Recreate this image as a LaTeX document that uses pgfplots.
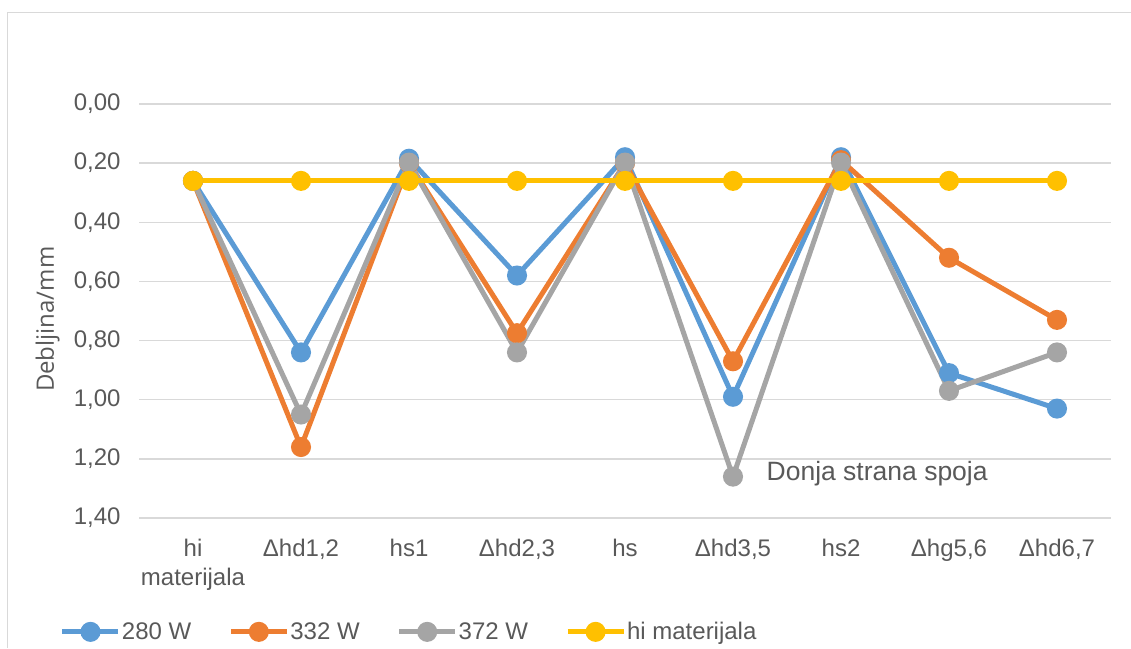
\documentclass[border=0pt]{standalone}
\usepackage{fontspec}
\setmainfont{Liberation Sans}
\newfontfamily\labelfont{Open Sans}
\usepackage{pgfplots}
\pgfplotsset{compat=1.18}
\definecolor{cblue}{HTML}{5B9BD5}
\definecolor{corange}{HTML}{ED7D31}
\definecolor{cgray}{HTML}{A5A5A5}
\definecolor{cyellow}{HTML}{FFC000}
\definecolor{ctext}{HTML}{595959}
\definecolor{cgrid}{HTML}{D9D9D9}
\begin{document}
\begin{tikzpicture}[x=1pt,y=1pt]
\useasboundingbox (0,0) rectangle (1131,648);
\draw[cgrid, line width=1.5pt] (7.5,0) -- (7.5,635.5) -- (1131,635.5);
\begin{axis}[
  at={(625pt,337pt)}, anchor=center,
  scale only axis, width=972pt, height=414pt,
  xmin=-0.5, xmax=8.5, ymin=0, ymax=1.4,
  y dir=reverse,
  axis line style={draw=none},
  major tick length=0pt,
  ymajorgrids, grid style={cgrid, line width=1.5pt},
  ytick={0,0.2,0.4,0.6,0.8,1.0,1.2,1.4},
  yticklabel style={/pgf/number format/fixed, /pgf/number format/fixed zerofill, /pgf/number format/precision=2, /pgf/number format/use comma, /pgf/number format/assume math mode=true},
  yticklabel style={font=\fontsize{24}{28}\selectfont, text=ctext, xshift=-15pt},
  xtick={0,...,8},
  xticklabels={{hi\\materijala},{Δhd1,2},hs1,{Δhd2,3},hs,{Δhd3,5},hs2,{Δhg5,6},{Δhd6,7}},
  xticklabel style={font=\fontsize{24}{29}\selectfont, text=ctext, align=center, yshift=-18pt},
  ylabel={Debljina/mm},
  every axis y label/.style={at={(axis description cs:-0.094,0.48)}, rotate=90, anchor=center, font=\labelfont\fontsize{24}{28}\selectfont, text=ctext},
  every axis plot/.append style={line width=5pt, mark=*, mark size=7.5pt, mark options={solid}},
  legend columns=4,
  legend style={at={(axis description cs:0.2775,-0.275)}, anchor=center, draw=none, fill=none,
    font=\fontsize{24}{28}\selectfont, text=ctext,
    nodes={inner sep=1pt},
    /tikz/every even column/.append style={column sep=36pt}},
  legend image code/.code={\draw[mark repeat=2,mark phase=2,#1] plot coordinates {(0pt,0pt) (28pt,0pt) (56pt,0pt)};},
]
\addplot[cblue] coordinates {(0,0.26) (1,0.84) (2,0.185) (3,0.58) (4,0.18) (5,0.99) (6,0.18) (7,0.91) (8,1.03)};
\addlegendentry{280 W}
\addplot[corange] coordinates {(0,0.26) (1,1.16) (2,0.20) (3,0.775) (4,0.20) (5,0.87) (6,0.19) (7,0.52) (8,0.73)};
\addlegendentry{332 W}
\addplot[cgray] coordinates {(0,0.26) (1,1.05) (2,0.198) (3,0.84) (4,0.198) (5,1.26) (6,0.198) (7,0.97) (8,0.84)};
\addlegendentry{372 W}
\addplot[cyellow] coordinates {(0,0.26) (1,0.26) (2,0.26) (3,0.26) (4,0.26) (5,0.26) (6,0.26) (7,0.26) (8,0.26)};
\addlegendentry{hi materijala}
\node[anchor=west, font=\fontsize{26.5}{30}\selectfont, text=ctext, inner sep=0pt] at (axis cs:5.31,1.251) {Donja strana spoja};
\end{axis}
\end{tikzpicture}
\end{document}
